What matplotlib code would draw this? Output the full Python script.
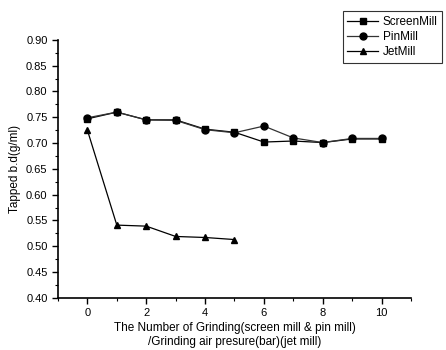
import matplotlib.pyplot as plt
from matplotlib.ticker import MultipleLocator

plt.rcParams["font.family"] = ["Liberation Sans", "DejaVu Sans"]

x_mill = [0, 1, 2, 3, 4, 5, 6, 7, 8, 9, 10]
screen_mill = [0.747, 0.760, 0.745, 0.745, 0.727, 0.721, 0.702, 0.704, 0.701, 0.708, 0.708]
pin_mill = [0.749, 0.760, 0.745, 0.744, 0.726, 0.720, 0.733, 0.710, 0.701, 0.709, 0.709]
x_jet = [0, 1, 2, 3, 4, 5]
jet_mill = [0.725, 0.541, 0.539, 0.519, 0.517, 0.513]


def main():
    fig = plt.figure(figsize=(4.46, 3.5), dpi=100)
    ax = fig.add_axes([0.130, 0.149, 0.7915, 0.737])

    l1, = ax.plot(x_mill, screen_mill, color="black", lw=0.9, marker="s", ms=4.5)
    l2, = ax.plot(x_mill, pin_mill, color="#333333", lw=0.9, marker="o", ms=5,
                  mfc="black", mec="black")
    l3, = ax.plot(x_jet, jet_mill, color="black", lw=0.9, marker="^", ms=5)

    ax.set_xlim(-1, 11)
    ax.set_ylim(0.40, 0.90)
    ax.xaxis.set_major_locator(MultipleLocator(2))
    ax.xaxis.set_minor_locator(MultipleLocator(1))
    ax.yaxis.set_major_locator(MultipleLocator(0.05))
    ax.yaxis.set_minor_locator(MultipleLocator(0.025))
    ax.yaxis.set_major_formatter(plt.FuncFormatter(lambda v, p: f"{v:.2f}"))
    ax.tick_params(which="major", direction="out", length=4, width=1, labelsize=8)
    ax.tick_params(which="minor", direction="out", length=2, width=0.8)
    ax.spines["top"].set_visible(False)
    ax.spines["right"].set_visible(False)
    ax.spines["left"].set_linewidth(1.2)
    ax.spines["bottom"].set_linewidth(1.2)

    ax.set_ylabel("Tapped b.d(g/ml)", fontsize=8.5)
    ax.set_xlabel("The Number of Grinding(screen mill & pin mill)\n/Grinding air presure(bar)(jet mill)",
                  fontsize=8.5, labelpad=3, linespacing=1.15)

    leg = fig.legend([l1, l2, l3], ["ScreenMill", "PinMill", "JetMill"],
                     loc="upper right", bbox_to_anchor=(1.005, 0.985),
                     fontsize=8.5, frameon=True, fancybox=False,
                     edgecolor="black", borderpad=0.4, labelspacing=0.25,
                     handlelength=2.6, handletextpad=0.4)
    leg.get_frame().set_linewidth(0.8)

    fig.savefig("out.png", dpi=100)


if __name__ == "__main__":
    main()
